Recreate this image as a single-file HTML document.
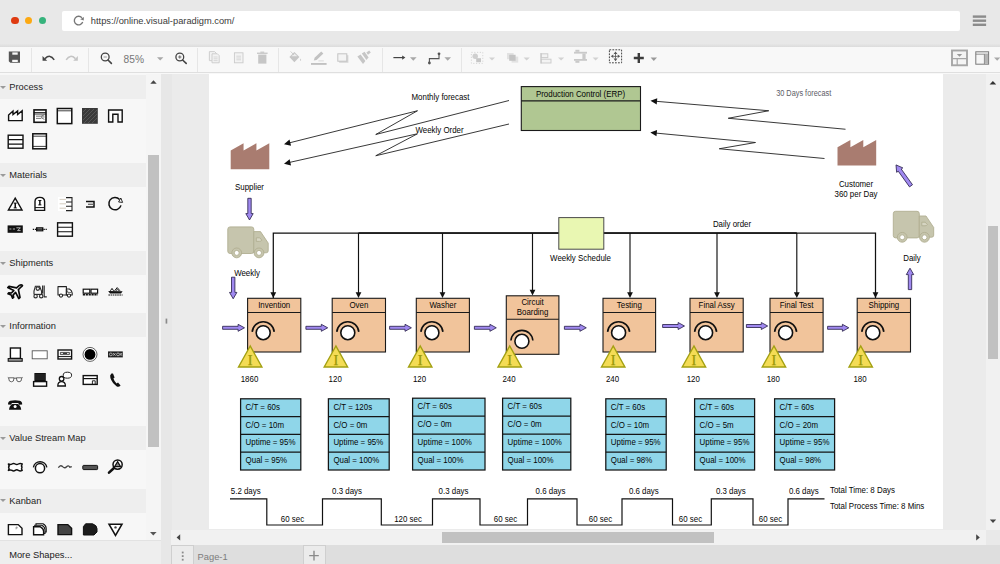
<!DOCTYPE html>
<html lang="en">
<head>
<meta charset="utf-8">
<title>Value Stream Map - Visual Paradigm Online</title>
<style>
*{box-sizing:border-box;margin:0;padding:0}
html,body{width:1000px;height:564px;overflow:hidden;background:#e9e9e9;font-family:"Liberation Sans",Arial,Helvetica,sans-serif;}
#app{position:relative;width:1000px;height:564px;overflow:hidden;background:#e9e9e9}
.abs{position:absolute}
#chrome{left:0;top:0;width:1000px;height:46px;background:#e8e8e8}
#chrome .shade{left:0;top:44px;width:1000px;height:2.6px;background:linear-gradient(#e6e6e6,#dcdcdc)}
.dot{width:7.2px;height:7.2px;border-radius:50%;top:17px}
#url{left:62px;top:10.5px;width:897.5px;height:20.5px;background:#fff;border-radius:2px}
#urltxt{left:90.8px;top:14.5px;font-size:9.3px;line-height:12px;color:#3a3a3a;white-space:nowrap}
#toolbar{left:0;top:46.5px;width:1000px;height:27.5px;background:#f8f8f8}
#tbline{left:0;top:71.8px;width:1000px;height:1px;background:#dfdfdf}
.sep{top:47.5px;width:1px;height:24.3px;background:#e6e6e6}
#zoomtxt{left:123.6px;top:52.6px;font-size:10.2px;line-height:13px;color:#767676}
#side{left:0;top:74px;width:146px;height:466px;background:#f7f7f7}
.hd{left:0;width:146px;height:24px;background:#eeeeee;font-size:9.3px;line-height:23.8px;padding-top:var(--p);color:#1e1e1e;padding-left:9.3px;white-space:nowrap}
.hd:before{content:"";position:absolute;left:-0.2px;top:calc(9.8px + var(--p));border-left:3px solid transparent;border-right:3px solid transparent;border-top:3.3px solid #9a9a9a}
#sscroll{left:146px;top:74px;width:15px;height:466px;background:#f5f5f5}
#sthumb{left:148.4px;top:155px;width:10.6px;height:292px;background:#c1c1c1}
#more{left:0;top:540px;width:161px;height:24px;background:#eeeeee;border-top:1px solid #e2e2e2;font-size:9.3px;line-height:29.2px;padding-left:9.2px;color:#1a1a1a}
#gut{left:161px;top:74px;width:10.5px;height:490px;background:#e7e7e7}
#canvas{left:171.5px;top:74px;width:814.5px;height:456px;background:#ebebeb}
#page{left:209.4px;top:74px;width:734px;height:454.6px;background:#fff}
#vscroll{left:986px;top:74px;width:14px;height:456px;background:#f1f1f1}
#vthumb{left:987.6px;top:225.8px;width:10.8px;height:133.2px;background:#c1c1c1}
#hscroll{left:171px;top:529.6px;width:815px;height:15.4px;background:#f1f1f1}
#hthumb{left:442px;top:532px;width:272px;height:10.6px;background:#c1c1c1}
#tabs{left:171.5px;top:545px;width:828.5px;height:19px;background:#dedede}
.tbtn{top:545px;height:19px;background:#ebebeb;border:1px solid #cfcfcf;border-bottom:none}
#pagetab{left:197.6px;top:550.8px;font-size:9.3px;line-height:12px;color:#7c7c7c}
svg{position:absolute;left:0;top:0;overflow:visible}
svg text{font-family:"Liberation Sans",Arial,Helvetica,sans-serif}
</style>
</head>
<body>
<div id="app">
  <!-- browser chrome -->
  <div id="chrome" class="abs">
    <div class="abs shade"></div>
    <div class="abs dot" style="left:11.4px;background:#df3b11"></div>
    <div class="abs dot" style="left:25px;background:#fca912"></div>
    <div class="abs dot" style="left:38.9px;background:#36b37c"></div>
    <div id="url" class="abs"></div>
    <div id="urltxt" class="abs">https://online.visual-paradigm.com/</div>
  </div>
  <!-- toolbar -->
  <div id="toolbar" class="abs"></div>
  <div id="tbline" class="abs"></div>
  <div class="abs sep" style="left:31px"></div>
  <div class="abs sep" style="left:88px"></div>
  <div class="abs sep" style="left:197px"></div>
  <div class="abs sep" style="left:278px"></div>
  <div class="abs sep" style="left:382px"></div>
  <div class="abs sep" style="left:461px"></div>
  <div id="zoomtxt" class="abs">85%</div>
  <!-- sidebar -->
  <div id="side" class="abs"></div>
  <div class="abs hd" style="top:74.7px;--p:1.8px">Process</div>
  <div class="abs hd" style="top:163px;--p:1.0px">Materials</div>
  <div class="abs hd" style="top:250.7px;--p:1.6px">Shipments</div>
  <div class="abs hd" style="top:313.3px;--p:1.6px">Information</div>
  <div class="abs hd" style="top:426.3px;--p:0.6px">Value Stream Map</div>
  <div class="abs hd" style="top:489.1px;--p:0.5px">Kanban</div>
  <div id="sscroll" class="abs"></div>
  <div id="sthumb" class="abs"></div>
  <div id="more" class="abs">More Shapes...</div>
  <div id="gut" class="abs"></div>
  <!-- canvas -->
  <div id="canvas" class="abs"></div>
  <div id="page" class="abs"></div>
  <div id="vscroll" class="abs"></div>
  <div id="vthumb" class="abs"></div>
  <div id="hscroll" class="abs"></div>
  <div id="hthumb" class="abs"></div>
  <div id="tabs" class="abs"></div>
  <div class="abs tbtn" style="left:171px;width:23px"></div>
  <div class="abs tbtn" style="left:302.5px;width:23px"></div>
  <div id="pagetab" class="abs">Page-1</div>
  <!-- diagram -->
  <svg id="diagram" width="1000" height="564" viewBox="0 0 1000 564">
  <defs><clipPath id="pc"><rect x="209.5" y="72" width="734" height="456.6"/></clipPath></defs>
  <g clip-path="url(#pc)">
<path d="M290 142.7 L417.5 110.75 L375.75 134.5 L509 100.5" fill="none" stroke="#222" stroke-width="0.9" stroke-linejoin="miter"/>
<polygon points="284.00,144.20 289.53,139.52 291.08,145.72" fill="#111"/>
<path d="M290 162.3 L417.5 133.75 L375.75 155.75 L509 124" fill="none" stroke="#222" stroke-width="0.9" stroke-linejoin="miter"/>
<polygon points="284.00,163.70 289.64,159.15 291.04,165.40" fill="#111"/>
<path d="M656 101.3 L768.75 110.75 L728.25 118.25 L845.5 129.25" fill="none" stroke="#222" stroke-width="0.9" stroke-linejoin="miter"/>
<polygon points="650.50,100.80 657.25,98.16 656.71,104.53" fill="#111"/>
<path d="M656 133.1 L755.5 142.5 L719.25 148.75 L824.5 158.5" fill="none" stroke="#222" stroke-width="0.9" stroke-linejoin="miter"/>
<polygon points="650.30,132.50 657.07,129.93 656.47,136.30" fill="#111"/>
<text transform="translate(440.5 99.7) scale(0.885 1)" text-anchor="middle" fill="#050505" font-size="8.93" >Monthly forecast</text>
<text transform="translate(439.5 132.7) scale(0.885 1)" text-anchor="middle" fill="#050505" font-size="8.93" >Weekly Order</text>
<text transform="translate(803.7 95.9) scale(0.885 1)" text-anchor="middle" fill="#5c5c66" font-size="8.31" >30 Days forecast</text>
<rect x="521.3" y="86.6" width="119.2" height="43.9" fill="#b0c792" stroke="#1a1a1a" stroke-width="1.1"/>
<line x1="521.3" y1="100.9" x2="640.5" y2="100.9" stroke="#1a1a1a" stroke-width="1.1"/>
<text transform="translate(580.5 96.9) scale(0.885 1)" text-anchor="middle" fill="#050505" font-size="8.93" >Production Control (ERP)</text>
<polygon points="230.70,169.20 230.70,150.50 243.57,143.20 243.57,150.50 256.43,143.20 256.43,150.50 269.30,143.20 269.30,169.20" fill="#a97c70"/>
<polygon points="837.50,165.60 837.50,147.30 850.40,140.00 850.40,147.30 863.30,140.00 863.30,147.30 876.20,140.00 876.20,165.60" fill="#a97c70"/>
<text transform="translate(249.5 189.8) scale(0.885 1)" text-anchor="middle" fill="#050505" font-size="8.93" >Supplier</text>
<text transform="translate(856 187.1) scale(0.885 1)" text-anchor="middle" fill="#050505" font-size="8.93" >Customer</text>
<text transform="translate(856 196.6) scale(0.885 1)" text-anchor="middle" fill="#050505" font-size="8.93" >360 per Day</text>
<polygon points="247.80,198.30 247.80,213.60 245.80,213.60 249.50,220.00 253.20,213.60 251.20,213.60 251.20,198.30" fill="#a089f0" stroke="#231c44" stroke-width="0.8" stroke-linejoin="miter"/>
<polygon points="231.50,277.20 231.50,292.40 229.50,292.40 233.20,298.80 236.90,292.40 234.90,292.40 234.90,277.20" fill="#a089f0" stroke="#231c44" stroke-width="0.8" stroke-linejoin="miter"/>
<polygon points="911.70,289.60 911.70,274.60 913.70,274.60 910.00,268.20 906.30,274.60 908.30,274.60 908.30,289.60" fill="#a089f0" stroke="#231c44" stroke-width="0.8" stroke-linejoin="miter"/>
<polygon points="912.50,184.72 901.23,169.02 902.82,167.88 896.00,164.90 896.64,172.32 898.23,171.18 909.50,186.88" fill="#a089f0" stroke="#231c44" stroke-width="0.8" stroke-linejoin="miter"/>
<g transform="translate(227.5,226.6)" fill="#c6c5ad" stroke="#b1af92" stroke-width="0.9" stroke-linejoin="round"><rect x="0.3" y="0.3" width="26" height="26.6" rx="2.3"/><path d="M26.3 5 H33 L40.7 16.5 V24.2 Q40.7 26.2 38.7 26.2 H26.3 Z"/><path d="M28.8 11.2 H32.2 L34.4 13.6 Q33.6 14.8 32 14.8 H28.8 Z" fill="#d6d5c2"/><circle cx="9.2" cy="26.3" r="4.9"/><circle cx="9.2" cy="26.3" r="2.5" fill="#fff"/><circle cx="31.5" cy="26.3" r="4.9"/><circle cx="31.5" cy="26.3" r="2.5" fill="#fff"/></g>
<g transform="translate(893,211)" fill="#c6c5ad" stroke="#b1af92" stroke-width="0.9" stroke-linejoin="round"><rect x="0.3" y="0.3" width="26" height="26.6" rx="2.3"/><path d="M26.3 5 H33 L40.7 16.5 V24.2 Q40.7 26.2 38.7 26.2 H26.3 Z"/><path d="M28.8 11.2 H32.2 L34.4 13.6 Q33.6 14.8 32 14.8 H28.8 Z" fill="#d6d5c2"/><circle cx="9.2" cy="26.3" r="4.9"/><circle cx="9.2" cy="26.3" r="2.5" fill="#fff"/><circle cx="31.5" cy="26.3" r="4.9"/><circle cx="31.5" cy="26.3" r="2.5" fill="#fff"/></g>
<text transform="translate(247 276.1) scale(0.885 1)" text-anchor="middle" fill="#050505" font-size="8.93" >Weekly</text>
<text transform="translate(912 260.6) scale(0.885 1)" text-anchor="middle" fill="#050505" font-size="8.93" >Daily</text>
<path d="M273.3 298 V233 H875.5 V298" fill="none" stroke="#111" stroke-width="1.25"/>
<path d="M358.5 233 H796.8" fill="none" stroke="#111" stroke-width="1.6"/>
<polygon points="273.3,298 270.40000000000003,292.2 276.2,292.2" fill="#111"/>
<line x1="358.5" y1="233" x2="358.5" y2="295" stroke="#111" stroke-width="1.15"/>
<polygon points="358.5,298 355.6,292.2 361.4,292.2" fill="#111"/>
<line x1="442.5" y1="233" x2="442.5" y2="295" stroke="#111" stroke-width="1.15"/>
<polygon points="442.5,298 439.6,292.2 445.4,292.2" fill="#111"/>
<line x1="532.5" y1="233" x2="532.5" y2="292.5" stroke="#111" stroke-width="1.15"/>
<polygon points="532.5,295.5 529.6,289.7 535.4,289.7" fill="#111"/>
<line x1="630" y1="233" x2="630" y2="295" stroke="#111" stroke-width="1.15"/>
<polygon points="630,298 627.1,292.2 632.9,292.2" fill="#111"/>
<line x1="717" y1="233" x2="717" y2="295" stroke="#111" stroke-width="1.15"/>
<polygon points="717,298 714.1,292.2 719.9,292.2" fill="#111"/>
<line x1="796.8" y1="233" x2="796.8" y2="295" stroke="#111" stroke-width="1.15"/>
<polygon points="796.8,298 793.9,292.2 799.6999999999999,292.2" fill="#111"/>
<polygon points="875.5,298 872.6,292.2 878.4,292.2" fill="#111"/>
<rect x="558.8" y="217.6" width="45" height="31.6" fill="#e9f7b2" stroke="#4a4a4a" stroke-width="1"/>
<text transform="translate(580.5 260.6) scale(0.885 1)" text-anchor="middle" fill="#050505" font-size="8.93" >Weekly Schedule</text>
<text transform="translate(732 227.3) scale(0.885 1)" text-anchor="middle" fill="#050505" font-size="8.93" >Daily order</text>
<rect x="247.6" y="298.3" width="53.2" height="53.70" fill="#f1c49b" stroke="#1a1a1a" stroke-width="1.1"/>
<line x1="247.6" y1="312.5" x2="300.8" y2="312.5" stroke="#1a1a1a" stroke-width="1.1"/>
<text transform="translate(274.2 308.1) scale(0.885 1)" text-anchor="middle" fill="#050505" font-size="8.93" >Invention</text>
<path d="M252.23 331.93 A11 11 0 0 1 274.17 331.93" fill="none" stroke="#111" stroke-width="1.6"/>
<circle cx="263.2" cy="332.7" r="7" fill="#fff" stroke="#111" stroke-width="1.6"/>
<polygon points="250.2,346 238.5,367 261.9,367" fill="#f4dc55" stroke="#a3a012" stroke-width="1.4" stroke-linejoin="miter"/>
<text x="250.2" y="365" text-anchor="middle" fill="#9a9808" stroke="#9a9808" stroke-width="0.25" font-size="14.4" style="font-family:'Liberation Serif','Times New Roman',serif">I</text>
<text transform="translate(249.5 382.1) scale(0.885 1)" text-anchor="middle" fill="#050505" font-size="8.93" >1860</text>
<rect x="332.2" y="298.3" width="53.3" height="53.70" fill="#f1c49b" stroke="#1a1a1a" stroke-width="1.1"/>
<line x1="332.2" y1="312.5" x2="385.5" y2="312.5" stroke="#1a1a1a" stroke-width="1.1"/>
<text transform="translate(358.84999999999997 308.1) scale(0.885 1)" text-anchor="middle" fill="#050505" font-size="8.93" >Oven</text>
<path d="M336.83 331.93 A11 11 0 0 1 358.77 331.93" fill="none" stroke="#111" stroke-width="1.6"/>
<circle cx="347.8" cy="332.7" r="7" fill="#fff" stroke="#111" stroke-width="1.6"/>
<polygon points="335.9,346 324.2,367 347.59999999999997,367" fill="#f4dc55" stroke="#a3a012" stroke-width="1.4" stroke-linejoin="miter"/>
<text x="335.9" y="365" text-anchor="middle" fill="#9a9808" stroke="#9a9808" stroke-width="0.25" font-size="14.4" style="font-family:'Liberation Serif','Times New Roman',serif">I</text>
<text transform="translate(335.2 382.1) scale(0.885 1)" text-anchor="middle" fill="#050505" font-size="8.93" >120</text>
<rect x="416.3" y="298.3" width="53.1" height="53.70" fill="#f1c49b" stroke="#1a1a1a" stroke-width="1.1"/>
<line x1="416.3" y1="312.5" x2="469.40000000000003" y2="312.5" stroke="#1a1a1a" stroke-width="1.1"/>
<text transform="translate(442.85 308.1) scale(0.885 1)" text-anchor="middle" fill="#050505" font-size="8.93" >Washer</text>
<path d="M420.93 331.93 A11 11 0 0 1 442.87 331.93" fill="none" stroke="#111" stroke-width="1.6"/>
<circle cx="431.90000000000003" cy="332.7" r="7" fill="#fff" stroke="#111" stroke-width="1.6"/>
<polygon points="420.2,346 408.5,367 431.9,367" fill="#f4dc55" stroke="#a3a012" stroke-width="1.4" stroke-linejoin="miter"/>
<text x="420.2" y="365" text-anchor="middle" fill="#9a9808" stroke="#9a9808" stroke-width="0.25" font-size="14.4" style="font-family:'Liberation Serif','Times New Roman',serif">I</text>
<text transform="translate(419.5 382.1) scale(0.885 1)" text-anchor="middle" fill="#050505" font-size="8.93" >120</text>
<rect x="506.3" y="295.8" width="52.6" height="58.50" fill="#f1c49b" stroke="#1a1a1a" stroke-width="1.1"/>
<line x1="506.3" y1="319.3" x2="558.9" y2="319.3" stroke="#1a1a1a" stroke-width="1.1"/>
<text transform="translate(532.6 305.4) scale(0.885 1)" text-anchor="middle" fill="#050505" font-size="8.93" >Circuit</text>
<text transform="translate(532.6 315.0) scale(0.885 1)" text-anchor="middle" fill="#050505" font-size="8.93" >Boarding</text>
<path d="M510.93 340.53 A11 11 0 0 1 532.87 340.53" fill="none" stroke="#111" stroke-width="1.6"/>
<circle cx="521.9" cy="341.3" r="7" fill="#fff" stroke="#111" stroke-width="1.6"/>
<polygon points="509.7,346 498.0,367 521.4,367" fill="#f4dc55" stroke="#a3a012" stroke-width="1.4" stroke-linejoin="miter"/>
<text x="509.7" y="365" text-anchor="middle" fill="#9a9808" stroke="#9a9808" stroke-width="0.25" font-size="14.4" style="font-family:'Liberation Serif','Times New Roman',serif">I</text>
<text transform="translate(509.0 382.1) scale(0.885 1)" text-anchor="middle" fill="#050505" font-size="8.93" >240</text>
<rect x="603" y="298.3" width="52.6" height="53.70" fill="#f1c49b" stroke="#1a1a1a" stroke-width="1.1"/>
<line x1="603" y1="312.5" x2="655.6" y2="312.5" stroke="#1a1a1a" stroke-width="1.1"/>
<text transform="translate(629.3 308.1) scale(0.885 1)" text-anchor="middle" fill="#050505" font-size="8.93" >Testing</text>
<path d="M607.63 331.93 A11 11 0 0 1 629.57 331.93" fill="none" stroke="#111" stroke-width="1.6"/>
<circle cx="618.6" cy="332.7" r="7" fill="#fff" stroke="#111" stroke-width="1.6"/>
<polygon points="613.2,346 601.5,367 624.9,367" fill="#f4dc55" stroke="#a3a012" stroke-width="1.4" stroke-linejoin="miter"/>
<text x="613.2" y="365" text-anchor="middle" fill="#9a9808" stroke="#9a9808" stroke-width="0.25" font-size="14.4" style="font-family:'Liberation Serif','Times New Roman',serif">I</text>
<text transform="translate(612.5 382.1) scale(0.885 1)" text-anchor="middle" fill="#050505" font-size="8.93" >240</text>
<rect x="690" y="298.3" width="53.2" height="53.70" fill="#f1c49b" stroke="#1a1a1a" stroke-width="1.1"/>
<line x1="690" y1="312.5" x2="743.2" y2="312.5" stroke="#1a1a1a" stroke-width="1.1"/>
<text transform="translate(716.6 308.1) scale(0.885 1)" text-anchor="middle" fill="#050505" font-size="8.93" >Final Assy</text>
<path d="M694.63 331.93 A11 11 0 0 1 716.57 331.93" fill="none" stroke="#111" stroke-width="1.6"/>
<circle cx="705.6" cy="332.7" r="7" fill="#fff" stroke="#111" stroke-width="1.6"/>
<polygon points="693.95,346 682.25,367 705.65,367" fill="#f4dc55" stroke="#a3a012" stroke-width="1.4" stroke-linejoin="miter"/>
<text x="693.95" y="365" text-anchor="middle" fill="#9a9808" stroke="#9a9808" stroke-width="0.25" font-size="14.4" style="font-family:'Liberation Serif','Times New Roman',serif">I</text>
<text transform="translate(693.25 382.1) scale(0.885 1)" text-anchor="middle" fill="#050505" font-size="8.93" >120</text>
<rect x="770" y="298.3" width="53.1" height="53.70" fill="#f1c49b" stroke="#1a1a1a" stroke-width="1.1"/>
<line x1="770" y1="312.5" x2="823.1" y2="312.5" stroke="#1a1a1a" stroke-width="1.1"/>
<text transform="translate(796.55 308.1) scale(0.885 1)" text-anchor="middle" fill="#050505" font-size="8.93" >Final Test</text>
<path d="M774.63 331.93 A11 11 0 0 1 796.57 331.93" fill="none" stroke="#111" stroke-width="1.6"/>
<circle cx="785.6" cy="332.7" r="7" fill="#fff" stroke="#111" stroke-width="1.6"/>
<polygon points="773.95,346 762.25,367 785.65,367" fill="#f4dc55" stroke="#a3a012" stroke-width="1.4" stroke-linejoin="miter"/>
<text x="773.95" y="365" text-anchor="middle" fill="#9a9808" stroke="#9a9808" stroke-width="0.25" font-size="14.4" style="font-family:'Liberation Serif','Times New Roman',serif">I</text>
<text transform="translate(773.25 382.1) scale(0.885 1)" text-anchor="middle" fill="#050505" font-size="8.93" >180</text>
<rect x="857.2" y="298.3" width="53.3" height="53.70" fill="#f1c49b" stroke="#1a1a1a" stroke-width="1.1"/>
<line x1="857.2" y1="312.5" x2="910.5" y2="312.5" stroke="#1a1a1a" stroke-width="1.1"/>
<text transform="translate(883.85 308.1) scale(0.885 1)" text-anchor="middle" fill="#050505" font-size="8.93" >Shipping</text>
<path d="M861.83 331.93 A11 11 0 0 1 883.77 331.93" fill="none" stroke="#111" stroke-width="1.6"/>
<circle cx="872.8000000000001" cy="332.7" r="7" fill="#fff" stroke="#111" stroke-width="1.6"/>
<polygon points="860.7,346 849.0,367 872.4,367" fill="#f4dc55" stroke="#a3a012" stroke-width="1.4" stroke-linejoin="miter"/>
<text x="860.7" y="365" text-anchor="middle" fill="#9a9808" stroke="#9a9808" stroke-width="0.25" font-size="14.4" style="font-family:'Liberation Serif','Times New Roman',serif">I</text>
<text transform="translate(860.0 382.1) scale(0.885 1)" text-anchor="middle" fill="#050505" font-size="8.93" >180</text>
<polygon points="222.60,329.30 238.10,329.30 238.10,331.30 244.50,327.80 238.10,324.30 238.10,326.30 222.60,326.30" fill="#a089f0" stroke="#231c44" stroke-width="0.8" stroke-linejoin="miter"/>
<polygon points="305.90,329.30 321.30,329.30 321.30,331.30 327.70,327.80 321.30,324.30 321.30,326.30 305.90,326.30" fill="#a089f0" stroke="#231c44" stroke-width="0.8" stroke-linejoin="miter"/>
<polygon points="389.60,329.30 405.00,329.30 405.00,331.30 411.40,327.80 405.00,324.30 405.00,326.30 389.60,326.30" fill="#a089f0" stroke="#231c44" stroke-width="0.8" stroke-linejoin="miter"/>
<polygon points="474.40,329.30 489.90,329.30 489.90,331.30 496.30,327.80 489.90,324.30 489.90,326.30 474.40,326.30" fill="#a089f0" stroke="#231c44" stroke-width="0.8" stroke-linejoin="miter"/>
<polygon points="564.40,329.30 579.90,329.30 579.90,331.30 586.30,327.80 579.90,324.30 579.90,326.30 564.40,326.30" fill="#a089f0" stroke="#231c44" stroke-width="0.8" stroke-linejoin="miter"/>
<polygon points="662.60,327.50 678.10,327.50 678.10,329.50 684.50,326.00 678.10,322.50 678.10,324.50 662.60,324.50" fill="#a089f0" stroke="#231c44" stroke-width="0.8" stroke-linejoin="miter"/>
<polygon points="746.40,327.50 761.30,327.50 761.30,329.50 767.70,326.00 761.30,322.50 761.30,324.50 746.40,324.50" fill="#a089f0" stroke="#231c44" stroke-width="0.8" stroke-linejoin="miter"/>
<polygon points="827.60,329.30 842.40,329.30 842.40,331.30 848.80,327.80 842.40,324.30 842.40,326.30 827.60,326.30" fill="#a089f0" stroke="#231c44" stroke-width="0.8" stroke-linejoin="miter"/>
<rect x="240.6" y="398.8" width="60.20" height="71.20" fill="#8fd6e9" stroke="#151515" stroke-width="1.25"/>
<line x1="240.6" y1="416.60" x2="300.8" y2="416.60" stroke="#151515" stroke-width="1.25"/>
<line x1="240.6" y1="434.40" x2="300.8" y2="434.40" stroke="#151515" stroke-width="1.25"/>
<line x1="240.6" y1="452.20" x2="300.8" y2="452.20" stroke="#151515" stroke-width="1.25"/>
<text transform="translate(245.6 409.7) scale(0.885 1)" text-anchor="start" fill="#050505" font-size="8.93" >C/T = 60s</text>
<text transform="translate(245.6 427.5) scale(0.885 1)" text-anchor="start" fill="#050505" font-size="8.93" >C/O = 10m</text>
<text transform="translate(245.6 445.3) scale(0.885 1)" text-anchor="start" fill="#050505" font-size="8.93" >Uptime = 95%</text>
<text transform="translate(245.6 463.1) scale(0.885 1)" text-anchor="start" fill="#050505" font-size="8.93" >Qual = 95%</text>
<rect x="328.4" y="398.8" width="60.80" height="71.20" fill="#8fd6e9" stroke="#151515" stroke-width="1.25"/>
<line x1="328.4" y1="416.60" x2="389.2" y2="416.60" stroke="#151515" stroke-width="1.25"/>
<line x1="328.4" y1="434.40" x2="389.2" y2="434.40" stroke="#151515" stroke-width="1.25"/>
<line x1="328.4" y1="452.20" x2="389.2" y2="452.20" stroke="#151515" stroke-width="1.25"/>
<text transform="translate(333.4 409.7) scale(0.885 1)" text-anchor="start" fill="#050505" font-size="8.93" >C/T = 120s</text>
<text transform="translate(333.4 427.5) scale(0.885 1)" text-anchor="start" fill="#050505" font-size="8.93" >C/O = 0m</text>
<text transform="translate(333.4 445.3) scale(0.885 1)" text-anchor="start" fill="#050505" font-size="8.93" >Uptime = 95%</text>
<text transform="translate(333.4 463.1) scale(0.885 1)" text-anchor="start" fill="#050505" font-size="8.93" >Qual = 100%</text>
<rect x="412.6" y="398.2" width="72.40" height="71.80" fill="#8fd6e9" stroke="#151515" stroke-width="1.25"/>
<line x1="412.6" y1="416.15" x2="485" y2="416.15" stroke="#151515" stroke-width="1.25"/>
<line x1="412.6" y1="434.10" x2="485" y2="434.10" stroke="#151515" stroke-width="1.25"/>
<line x1="412.6" y1="452.05" x2="485" y2="452.05" stroke="#151515" stroke-width="1.25"/>
<text transform="translate(417.6 409.18) scale(0.885 1)" text-anchor="start" fill="#050505" font-size="8.93" >C/T = 60s</text>
<text transform="translate(417.6 427.12) scale(0.885 1)" text-anchor="start" fill="#050505" font-size="8.93" >C/O = 0m</text>
<text transform="translate(417.6 445.08) scale(0.885 1)" text-anchor="start" fill="#050505" font-size="8.93" >Uptime = 100%</text>
<text transform="translate(417.6 463.03) scale(0.885 1)" text-anchor="start" fill="#050505" font-size="8.93" >Qual = 100%</text>
<rect x="502.6" y="398.2" width="68.20" height="71.80" fill="#8fd6e9" stroke="#151515" stroke-width="1.25"/>
<line x1="502.6" y1="416.15" x2="570.8" y2="416.15" stroke="#151515" stroke-width="1.25"/>
<line x1="502.6" y1="434.10" x2="570.8" y2="434.10" stroke="#151515" stroke-width="1.25"/>
<line x1="502.6" y1="452.05" x2="570.8" y2="452.05" stroke="#151515" stroke-width="1.25"/>
<text transform="translate(507.6 409.18) scale(0.885 1)" text-anchor="start" fill="#050505" font-size="8.93" >C/T = 60s</text>
<text transform="translate(507.6 427.12) scale(0.885 1)" text-anchor="start" fill="#050505" font-size="8.93" >C/O = 0m</text>
<text transform="translate(507.6 445.08) scale(0.885 1)" text-anchor="start" fill="#050505" font-size="8.93" >Uptime = 100%</text>
<text transform="translate(507.6 463.03) scale(0.885 1)" text-anchor="start" fill="#050505" font-size="8.93" >Qual = 100%</text>
<rect x="605.8" y="398.8" width="60.40" height="71.20" fill="#8fd6e9" stroke="#151515" stroke-width="1.25"/>
<line x1="605.8" y1="416.60" x2="666.2" y2="416.60" stroke="#151515" stroke-width="1.25"/>
<line x1="605.8" y1="434.40" x2="666.2" y2="434.40" stroke="#151515" stroke-width="1.25"/>
<line x1="605.8" y1="452.20" x2="666.2" y2="452.20" stroke="#151515" stroke-width="1.25"/>
<text transform="translate(610.8 409.7) scale(0.885 1)" text-anchor="start" fill="#050505" font-size="8.93" >C/T = 60s</text>
<text transform="translate(610.8 427.5) scale(0.885 1)" text-anchor="start" fill="#050505" font-size="8.93" >C/O = 10m</text>
<text transform="translate(610.8 445.3) scale(0.885 1)" text-anchor="start" fill="#050505" font-size="8.93" >Uptime = 95%</text>
<text transform="translate(610.8 463.1) scale(0.885 1)" text-anchor="start" fill="#050505" font-size="8.93" >Qual = 98%</text>
<rect x="694.6" y="398.8" width="60.00" height="71.20" fill="#8fd6e9" stroke="#151515" stroke-width="1.25"/>
<line x1="694.6" y1="416.60" x2="754.6" y2="416.60" stroke="#151515" stroke-width="1.25"/>
<line x1="694.6" y1="434.40" x2="754.6" y2="434.40" stroke="#151515" stroke-width="1.25"/>
<line x1="694.6" y1="452.20" x2="754.6" y2="452.20" stroke="#151515" stroke-width="1.25"/>
<text transform="translate(699.6 409.7) scale(0.885 1)" text-anchor="start" fill="#050505" font-size="8.93" >C/T = 60s</text>
<text transform="translate(699.6 427.5) scale(0.885 1)" text-anchor="start" fill="#050505" font-size="8.93" >C/O = 5m</text>
<text transform="translate(699.6 445.3) scale(0.885 1)" text-anchor="start" fill="#050505" font-size="8.93" >Uptime = 95%</text>
<text transform="translate(699.6 463.1) scale(0.885 1)" text-anchor="start" fill="#050505" font-size="8.93" >Qual = 100%</text>
<rect x="774.6" y="398.8" width="60.00" height="71.20" fill="#8fd6e9" stroke="#151515" stroke-width="1.25"/>
<line x1="774.6" y1="416.60" x2="834.6" y2="416.60" stroke="#151515" stroke-width="1.25"/>
<line x1="774.6" y1="434.40" x2="834.6" y2="434.40" stroke="#151515" stroke-width="1.25"/>
<line x1="774.6" y1="452.20" x2="834.6" y2="452.20" stroke="#151515" stroke-width="1.25"/>
<text transform="translate(779.6 409.7) scale(0.885 1)" text-anchor="start" fill="#050505" font-size="8.93" >C/T = 60s</text>
<text transform="translate(779.6 427.5) scale(0.885 1)" text-anchor="start" fill="#050505" font-size="8.93" >C/O = 20m</text>
<text transform="translate(779.6 445.3) scale(0.885 1)" text-anchor="start" fill="#050505" font-size="8.93" >Uptime = 95%</text>
<text transform="translate(779.6 463.1) scale(0.885 1)" text-anchor="start" fill="#050505" font-size="8.93" >Qual = 98%</text>
<path d="M230 498.8 L266.8 498.8 L266.8 525 L322.5 525 L322.5 498.8 L381.3 498.8 L381.3 525 L432.5 525 L432.5 498.8 L480 498.8 L480 525 L527.5 525 L527.5 498.8 L577 498.8 L577 525 L622 525 L622 498.8 L672.5 498.8 L672.5 525 L711.3 525 L711.3 498.8 L753 498.8 L753 525 L788 525 L788 498.8 L824.5 498.8" fill="none" stroke="#111" stroke-width="1.2" stroke-linejoin="miter"/>
<text transform="translate(230.8 493.8) scale(0.885 1)" text-anchor="start" fill="#050505" font-size="8.93" >5.2 days</text>
<text transform="translate(347 493.8) scale(0.885 1)" text-anchor="middle" fill="#050505" font-size="8.93" >0.3 days</text>
<text transform="translate(453.5 493.8) scale(0.885 1)" text-anchor="middle" fill="#050505" font-size="8.93" >0.3 days</text>
<text transform="translate(550.5 493.8) scale(0.885 1)" text-anchor="middle" fill="#050505" font-size="8.93" >0.6 days</text>
<text transform="translate(643.8 493.8) scale(0.885 1)" text-anchor="middle" fill="#050505" font-size="8.93" >0.6 days</text>
<text transform="translate(730.8 493.8) scale(0.885 1)" text-anchor="middle" fill="#050505" font-size="8.93" >0.3 days</text>
<text transform="translate(803.8 493.8) scale(0.885 1)" text-anchor="middle" fill="#050505" font-size="8.93" >0.6 days</text>
<text transform="translate(292.5 521.8) scale(0.885 1)" text-anchor="middle" fill="#050505" font-size="8.93" >60 sec</text>
<text transform="translate(408 521.8) scale(0.885 1)" text-anchor="middle" fill="#050505" font-size="8.93" >120 sec</text>
<text transform="translate(505.5 521.8) scale(0.885 1)" text-anchor="middle" fill="#050505" font-size="8.93" >60 sec</text>
<text transform="translate(600.5 521.8) scale(0.885 1)" text-anchor="middle" fill="#050505" font-size="8.93" >60 sec</text>
<text transform="translate(690.5 521.8) scale(0.885 1)" text-anchor="middle" fill="#050505" font-size="8.93" >60 sec</text>
<text transform="translate(770.5 521.8) scale(0.885 1)" text-anchor="middle" fill="#050505" font-size="8.93" >60 sec</text>
<text transform="translate(830 493.1) scale(0.885 1)" text-anchor="start" fill="#050505" font-size="8.93" >Total Time: 8 Days</text>
<text transform="translate(830 509.3) scale(0.885 1)" text-anchor="start" fill="#050505" font-size="8.93" >Total Process Time: 8 Mins</text>
  </g>
  </svg>
  <!-- ui icons -->
  <svg id="icons" width="1000" height="564" viewBox="0 0 1000 564">
<!-- hamburger -->
<g fill="#8b8b8b"><rect x="972.8" y="15.4" width="13.3" height="2.4"/><rect x="972.8" y="19.5" width="13.3" height="2.4"/><rect x="972.8" y="23.6" width="13.3" height="2.4"/></g>
<!-- reload -->
<path d="M81.9 17.8 A4.3 4.3 0 1 0 82.7 22" fill="none" stroke="#777" stroke-width="1.35"/>
<polygon points="80.2,19.2 83.9,17 83.7,20.6" fill="#777"/>
<!-- ===== toolbar ===== -->
<!-- save -->
<path d="M8.8 51.4 H20 V62.8 H10.4 L8.8 61.2 Z" fill="#555"/>
<rect x="12.3" y="52.4" width="5.4" height="2.3" fill="#f7f7f7"/>
<rect x="12.2" y="59.8" width="5.6" height="2.2" fill="#f7f7f7"/>
<!-- undo -->
<path d="M45 58.6 Q50.2 53.6 54.2 59.8" fill="none" stroke="#444" stroke-width="1.5"/>
<polygon points="42.5,56 47.2,60.8 42.6,60.8" fill="#444"/>
<!-- redo -->
<path d="M75.4 58.6 Q70.2 53.6 66.2 59.8" fill="none" stroke="#c4c4c4" stroke-width="1.5"/>
<polygon points="77.9,56 73.2,60.8 77.8,60.8" fill="#c4c4c4"/>
<!-- zoom out -->
<circle cx="105.2" cy="57" r="3.9" fill="none" stroke="#444" stroke-width="1.3"/>
<line x1="108" y1="60" x2="111.4" y2="63.4" stroke="#444" stroke-width="1.6" stroke-linecap="round"/>
<line x1="103.6" y1="57" x2="106.8" y2="57" stroke="#999" stroke-width="1"/>
<!-- caret -->
<polygon points="157,57.2 163.4,57.2 160.2,60.6" fill="#a8a8a8"/>
<!-- zoom in -->
<circle cx="179.8" cy="57" r="3.9" fill="none" stroke="#444" stroke-width="1.3"/>
<line x1="182.6" y1="60" x2="186.2" y2="63.4" stroke="#444" stroke-width="1.6" stroke-linecap="round"/>
<path d="M178.2 57 H181.4 M179.8 55.4 V58.6" stroke="#666" stroke-width="1" fill="none"/>
<!-- copy -->
<g fill="#f3f3f3" stroke="#cbcbcb" stroke-width="0.9">
<path d="M209.4 51.6 H214.6 L216.4 53.4 V60.6 H209.4 Z"/>
<path d="M212 53.8 H217.4 L219.2 55.6 V62.8 H212 Z"/>
<path d="M213.6 57 H217.6 M213.6 58.8 H217.6 M213.6 60.6 H217.6" stroke-width="0.7"/>
</g>
<!-- paste -->
<g fill="#f3f3f3" stroke="#cbcbcb" stroke-width="0.9">
<rect x="234.4" y="52.8" width="8.6" height="10"/>
<path d="M236.4 56.2 H241 M236.4 58 H241 M236.4 59.8 H241" stroke-width="0.7"/>
</g>
<!-- trash -->
<g fill="#c6c6c6"><rect x="258.2" y="54.6" width="8.2" height="9" /><rect x="257" y="52.6" width="10.6" height="1.3"/><rect x="260.4" y="51.6" width="3.8" height="1.2"/></g>
<!-- fill -->
<g fill="#c6c6c6"><polygon points="294.4,52 299.4,57 294.4,62.2 289.4,57"/><path d="M300.6 58.4 Q301.8 60.2 300.6 60.9 Q299.4 60.2 300.6 58.4Z"/></g>
<path d="M291.4 56.2 L294.4 53.4 L297.4 56.2 Z" fill="#ededed"/>
<line x1="290.6" y1="51.4" x2="294" y2="55" stroke="#c6c6c6" stroke-width="0.8"/>
<!-- pencil line -->
<polygon points="313.8,60.4 314.6,57.8 321.2,51.4 323.4,53.6 316.6,60 " fill="#c2c2c2"/>
<rect x="311" y="63.2" width="15.6" height="1.5" fill="#b4b4b4"/>
<rect x="318.4" y="60.4" width="5.4" height="1" fill="#dadada"/>
<!-- shadow -->
<rect x="339.2" y="55.2" width="9.2" height="7.6" fill="#d6d6d6"/>
<rect x="337.8" y="53.8" width="9" height="7.4" fill="#f4f4f4" stroke="#c4c4c4" stroke-width="1"/>
<!-- brush -->
<g fill="#c6c6c6"><polygon points="357.4,56.4 360.6,54.4 365.4,61 363,64"/><polygon points="361.8,53.6 364.6,51.8 368.6,57.4 366.4,60"/><polygon points="366.4,52.6 369.2,50.6 370.8,52.6 368,54.8"/></g>
<!-- connection arrow -->
<line x1="393.4" y1="57.6" x2="403" y2="57.6" stroke="#444" stroke-width="1.2"/>
<polygon points="405.4,57.6 402.2,55.4 402.2,59.8" fill="#444"/>
<polygon points="410,57.2 416.6,57.2 413.3,60.7" fill="#a8a8a8"/>
<!-- waypoint -->
<path d="M429.4 62.8 V58.6 H439 V54" fill="none" stroke="#555" stroke-width="1.1"/>
<circle cx="429.4" cy="63" r="1.4" fill="#555"/><circle cx="439" cy="53.8" r="1.4" fill="#555"/>
<polygon points="444.4,57.2 451,57.2 447.7,60.7" fill="#a8a8a8"/>
<!-- to front -->
<rect x="471.4" y="52.4" width="11.4" height="11" fill="none" stroke="#d4d4d4" stroke-width="0.9" stroke-dasharray="1.2 1.6"/>
<circle cx="475.2" cy="56.2" r="2.7" fill="#cfcfcf"/><rect x="476.2" y="58.2" width="4.8" height="4" fill="#c6c6c6"/>
<polygon points="489,57.4 495,57.4 492,60.6" fill="#d2d2d2"/>
<!-- to back -->
<rect x="507" y="53" width="6.6" height="6.2" fill="#e2e2e2"/><rect x="511.6" y="56.6" width="6.6" height="6" fill="#e2e2e2"/><rect x="509.2" y="54.8" width="6.4" height="6" fill="#c4c4c4"/>
<polygon points="523.6,57.4 529.8,57.4 526.7,60.6" fill="#d2d2d2"/>
<!-- align -->
<g fill="#f3f3f3" stroke="#cdcdcd" stroke-width="1"><rect x="541.2" y="53.8" width="6.6" height="3.8"/><rect x="541.2" y="59.2" width="9.8" height="3.8"/></g>
<line x1="541" y1="53" x2="541" y2="63.6" stroke="#c8c8c8" stroke-width="1.2"/>
<polygon points="558,57.4 564.2,57.4 561.1,60.6" fill="#d2d2d2"/>
<!-- distribute -->
<g fill="#c9c9c9"><rect x="574" y="51.8" width="13" height="1.8"/><rect x="574" y="59" width="13" height="1.8"/><rect x="575.4" y="49.8" width="4" height="2"/><rect x="575.4" y="60.8" width="4" height="2"/><rect x="582.4" y="53.6" width="3.2" height="5.4"/></g>
<polygon points="592.6,57.4 598.6,57.4 595.6,60.6" fill="#d2d2d2"/>
<!-- fit -->
<rect x="609.4" y="49.8" width="12.2" height="13" fill="none" stroke="#444" stroke-width="1" stroke-dasharray="1.8 1.2"/>
<g fill="#555"><polygon points="615.5,51.4 617.4,54 613.6,54"/><polygon points="615.5,61.2 617.4,58.6 613.6,58.6"/><polygon points="610.8,56.3 613.3,54.5 613.3,58.1"/><polygon points="620.2,56.3 617.7,54.5 617.7,58.1"/><rect x="615.1" y="54" width="0.8" height="4.6"/><rect x="613.3" y="55.9" width="4.4" height="0.8"/></g>
<!-- plus -->
<path d="M638.8 53 V63 M633.8 58 H643.8" stroke="#3c3c3c" stroke-width="2.4" fill="none"/>
<polygon points="650.6,57.6 657,57.6 653.8,61" fill="#999"/>
<!-- right icons -->
<rect x="952" y="50.5" width="15" height="14.8" fill="#f4f4f4" stroke="#a6a6a6" stroke-width="1.9"/>
<path d="M952 58.6 H967 M957.2 58.6 V65" stroke="#a6a6a6" stroke-width="1.2" fill="none"/>
<polygon points="956.8,54 962.2,54 959.5,56.8" fill="#999"/>
<rect x="975.8" y="51.8" width="12.8" height="12.4" fill="#f6f6f6" stroke="#7a7a7a" stroke-width="1"/>
<line x1="975.8" y1="54.2" x2="988.6" y2="54.2" stroke="#7a7a7a" stroke-width="0.8"/>
<rect x="984.6" y="54.4" width="3.4" height="9.4" fill="#b5b5b5"/><line x1="984.4" y1="54.2" x2="984.4" y2="64" stroke="#7a7a7a" stroke-width="0.8"/>
<polygon points="994,57.4 1000.4,57.4 997.2,60.8" fill="#a8a8a8"/>
<!-- scrollbar arrows -->
<polygon points="150.3,83.8 156.7,83.8 153.5,80.2" fill="#444"/>
<polygon points="150,532 156.6,532 153.3,535.6" fill="#555"/>
<polygon points="989.6,84.6 996.2,84.6 992.9,81" fill="#333"/>
<polygon points="989.8,519.4 996.2,519.4 993,523" fill="#444"/>
<polygon points="180.2,534.2 180.2,540.6 176.6,537.4" fill="#444"/>
<polygon points="976.2,534.2 976.2,540.6 979.8,537.4" fill="#444"/>
<!-- gutter handle -->
<rect x="165.6" y="318.6" width="1.4" height="5" fill="#8a8a8a"/><rect x="167.2" y="318.6" width="0.8" height="5" fill="#c8c8c8"/>
<!-- tab dots and plus -->
<g fill="#8a8a8a"><rect x="181.8" y="551.6" width="1.8" height="1.8"/><rect x="181.8" y="555.2" width="1.8" height="1.8"/><rect x="181.8" y="558.8" width="1.8" height="1.8"/></g>
<path d="M314 550.8 V560.4 M309.2 555.6 H318.8" stroke="#8a8a8a" stroke-width="1.4" fill="none"/>
<!-- ===== sidebar: Process ===== -->
<g fill="#fff" stroke="#111" stroke-width="1.4" stroke-linejoin="miter">
<path d="M8.6 120.6 V115 L13 111 V114.6 L17.6 111 V114.6 L22.2 110.8 V120.6 Z"/>
<rect x="34" y="109.9" width="12" height="12.4" stroke-width="1.6"/>
<rect x="57.3" y="108.5" width="14.5" height="15.1" stroke-width="1.5"/>
<path d="M108.6 122 V110 H122.2 V122 H118 V114.2 H112.8 V122 Z"/>
<rect x="8.2" y="135.2" width="14.8" height="13"/>
<rect x="32.8" y="133.8" width="13.6" height="15" stroke-width="1.5"/>
</g>
<g fill="none" stroke="#111">
<path d="M33.8 112.8 H46.2" stroke-width="1.3"/><path d="M33.8 114.6 H46.2" stroke-width="0.5"/>
<path d="M36 116.2 H41 L44.4 114.8 M41 116.8 L44.6 117 M41 117.6 L44.4 119.4 M36 118.4 H41" stroke-width="0.8" stroke="#555"/>
<path d="M57.2 110.8 H71.8" stroke-width="0.8"/>
<path d="M8.2 139.7 H23 M8.2 144.2 H23" stroke-width="1.2"/>
<path d="M33 136.2 H46.4 M33 146.4 H46.4" stroke-width="0.8"/>
</g>
<rect x="82" y="108" width="15.8" height="15.8" fill="#3a3a3a"/>
<path d="M83 112 L86 109 M83 116 L90 109 M83 120 L94 109 M84 123 L97 110 M88 123 L97 114 M92 123 L97 118" stroke="#6a6a6a" stroke-width="0.6" fill="none"/>
<!-- ===== Materials ===== -->
<g fill="#fff" stroke="#111" stroke-width="1.4" stroke-linejoin="miter">
<path d="M15.2 198.2 L22 210 H8.4 Z"/>
<path d="M35 210.4 V201.6 Q35 197.4 39.8 197.4 Q44.6 197.4 44.6 201.6 V210.4 Z"/>
<rect x="57.6" y="222.8" width="14.8" height="13.4"/>
</g>
<path d="M35 207.6 H44.6" stroke="#111" stroke-width="1" fill="none"/>
<path d="M57.6 227.2 H72.4 M57.6 231.8 H72.4" stroke="#111" stroke-width="1.1" fill="none"/>
<g fill="#111">
<rect x="14.5" y="203" width="1.5" height="5"/><rect x="13.7" y="202.6" width="3.1" height="1"/><rect x="13.7" y="207.4" width="3.1" height="1"/>
<rect x="39.1" y="200.4" width="1.5" height="4.6"/><rect x="38.3" y="200" width="3.1" height="1"/><rect x="38.3" y="204.4" width="3.1" height="1"/>
</g>
<rect x="58" y="197" width="14.8" height="14" fill="#fff"/>
<path d="M66 197.6 H72 V210.6 H66 M66 202 H72 M66 206.3 H72" fill="none" stroke="#222" stroke-width="1.1"/>
<path d="M59.6 199.4 H66 M59.6 203.8 H66 M59.6 208.2 H66" fill="none" stroke="#c9c0b0" stroke-width="0.8"/>
<path d="M86 201.6 H94 V207 H86" fill="none" stroke="#111" stroke-width="1.5"/>
<path d="M88 204.3 H93.4" stroke="#666" stroke-width="1.3" fill="none"/>
<path d="M119.6 199.4 A6.2 6.2 0 1 0 121 205.4" fill="none" stroke="#111" stroke-width="1.5"/>
<path d="M120.8 198 L122.6 202.4 L118.6 202 Z" fill="#fff" stroke="#111" stroke-width="0.9"/>
<rect x="7.6" y="225.4" width="15.2" height="7.4" fill="#111"/>
<path d="M9.4 229 H11.4 M12.8 229 H15 M16.4 227.8 H20.4 L17.6 230.6 H20.6" stroke="#ddd" stroke-width="0.8" fill="none"/>
<rect x="36" y="227.2" width="7.4" height="4.2" fill="#111"/>
<path d="M32.8 229.3 H36 M43.4 229.3 H46.8" stroke="#111" stroke-width="1.2" stroke-dasharray="1.4 0.8" fill="none"/>
<path d="M37.4 228.6 H42 M37.4 230 H42" stroke="#aaa" stroke-width="0.5" fill="none"/>
<!-- ===== Shipments ===== -->
<!-- airplane -->
<path d="M22.4 285.4 Q21.2 284.2 19.4 285.4 L16.6 287.8 L9 286.4 L7.8 287.6 L13.8 290.6 L11.4 293 L8.8 292.8 L8 293.8 L11.2 295 L12.6 298.2 L13.6 297.4 L13.2 294.8 L15.6 292.4 L18.8 298.6 L20 297.4 L18.4 289.6 L21 287 Q22.8 285.6 22.4 285.4 Z" fill="#fff" stroke="#0a0a0a" stroke-width="1.7" stroke-linejoin="round"/>
<!-- forklift -->
<g fill="none" stroke="#2e2e2e" stroke-width="1.15">
<path d="M34 294.6 V291 L35.4 286.2 H39.6 L41.6 291.4 V294.6"/>
<circle cx="37.8" cy="288.6" r="1.7"/>
<path d="M44.2 285.4 V296.8 H46.8 M42.6 285.4 V293.6"/>
<circle cx="35.6" cy="296.2" r="1.7"/><circle cx="41.2" cy="296.2" r="1.7"/>
<path d="M34 294.4 H42.6"/>
</g>
<!-- truck -->
<g fill="#fff" stroke="#222" stroke-width="1.1" stroke-linejoin="round">
<path d="M58 286.6 H66.4 V295 H58 Z"/>
<path d="M66.4 289 H69.4 Q72 290.6 72.2 293 V295 H66.4 Z"/>
<circle cx="61" cy="295.6" r="1.6"/><circle cx="69" cy="295.6" r="1.6"/>
<path d="M67.6 290.4 V292.4 H71.4" fill="none" stroke-width="0.7"/>
</g>
<!-- train -->
<g fill="#fff" stroke="#111" stroke-width="1.2"><rect x="83.2" y="289.2" width="6.6" height="4"/><rect x="91" y="289.2" width="6.6" height="4"/></g>
<path d="M82.8 294.8 H97.8" stroke="#111" stroke-width="1.4" stroke-dasharray="2.2 0.7" fill="none"/>
<!-- ship -->
<path d="M108.2 291 L110 293.6 H121 L122.6 291.2 Z" fill="#111"/>
<path d="M110.4 290.8 L112 288.4 L113.6 290.8 M114.6 290.8 L117.2 287.6 L120 290.8 M116 290.8 L117.2 289.4 L118.6 290.8" fill="none" stroke="#111" stroke-width="1"/>
<path d="M108.4 295 H122.6" stroke="#111" stroke-width="1" stroke-dasharray="1.6 0.6" fill="none"/>
<!-- ===== Information ===== -->
<g fill="#fff" stroke="#111" stroke-width="1.4">
<rect x="10.4" y="348" width="10" height="10.4"/>
<rect x="8.2" y="358.6" width="14" height="2.6" fill="#aaa" stroke-width="1.1"/>
<rect x="58" y="350" width="13.6" height="9"/>
<rect x="83.2" y="375.6" width="14" height="8.8"/>
</g>
<rect x="32.2" y="350.8" width="15" height="8" fill="#fff" stroke="#555" stroke-width="0.9"/>
<path d="M60.4 352.4 H69.4 V354.6 H60.4 Z" fill="#ddd" stroke="#111" stroke-width="0.7"/>
<path d="M63 353.4 H67" stroke="#111" stroke-width="0.9" fill="none"/>
<path d="M58 356.6 H71.6" stroke="#111" stroke-width="1" fill="none"/>
<circle cx="90" cy="354.4" r="7" fill="#fff" stroke="#222" stroke-width="0.7"/>
<circle cx="90" cy="354.4" r="5.4" fill="#000"/>
<rect x="108" y="351.4" width="14.8" height="6" fill="#222"/>
<g fill="none" stroke="#ddd" stroke-width="0.7"><circle cx="110.8" cy="354.4" r="1.4"/><path d="M113 353 L115.6 355.8 M115.6 353 L113 355.8"/><circle cx="118" cy="354.4" r="1.4"/><path d="M119.8 353 L122 355.8 M122 353 L119.8 355.8"/></g>
<!-- glasses -->
<g fill="#fff" stroke="#555" stroke-width="0.9"><path d="M8.6 377.8 H14 L13.4 381 Q11.4 382.6 9.4 381 Z"/><path d="M16.4 377.8 H21.8 L21 381 Q19 382.6 17 381 Z"/><path d="M14 378.2 H16.4 M7.8 377.4 L8.6 377.8 M22.6 377.4 L21.8 377.8" fill="none"/></g>
<!-- stack -->
<rect x="34.4" y="373" width="11.4" height="8" fill="#111"/>
<path d="M34.4 375 H45.8 M34.4 377 H45.8 M34.4 379 H45.8" stroke="#555" stroke-width="0.5" fill="none"/>
<rect x="33.6" y="381.6" width="13" height="4.6" fill="#fff" stroke="#111" stroke-width="1.4"/>
<!-- person bubble -->
<ellipse cx="67.4" cy="375.2" rx="4.2" ry="3" fill="#fff" stroke="#222" stroke-width="1"/>
<circle cx="61.6" cy="378.8" r="2.3" fill="#fff" stroke="#111" stroke-width="1.3"/>
<path d="M57.8 386 Q57.8 381.6 61.6 381.6 Q65.4 381.6 65.4 386 Z" fill="#fff" stroke="#111" stroke-width="1.3"/>
<!-- card -->
<path d="M83.2 378.6 H97.2" stroke="#111" stroke-width="1.2" fill="none"/>
<path d="M92.4 384 V380.8 H95.2 V384" fill="none" stroke="#111" stroke-width="0.9"/>
<!-- handset -->
<path d="M111.4 373.4 Q109.4 375 110.4 378 Q112 383 116.8 386.4 Q118.8 387.4 120.6 385.4 L118 382.6 L116.6 383.4 Q114.4 381.6 113.4 378.4 L114.6 377.4 L113 373.4 Z" fill="#111"/>
<!-- rotary phone -->
<path d="M8 404.6 Q8 401.4 10.4 400.8 Q15.2 399.6 19.8 400.8 Q22.2 401.4 22.2 404.6 L18.8 404.8 L18.4 403 H11.8 L11.4 404.8 Z" fill="#111"/>
<path d="M9 409.8 Q9.4 405.6 12.4 404 H17.8 Q20.8 405.6 21.2 409.8 Z" fill="#111"/>
<circle cx="15.1" cy="406.4" r="1.5" fill="#fff"/>
<!-- ===== VSM ===== -->
<path d="M8.4 464 Q10.4 465.2 12 464 Q13.6 462.8 15.2 464 Q16.8 465.2 18.4 464 Q20.2 462.8 22.2 464 Q21 465.6 22 467.2 Q21 468.8 22.2 470.4 Q20.2 471.4 18.4 470.4 Q16.8 469.2 15.2 470.4 Q13.6 471.6 12 470.4 Q10.4 469.4 8.4 470.4 Q9.6 468.8 8.6 467.2 Q9.6 465.6 8.4 464 Z" fill="#fff" stroke="#111" stroke-width="1.5" stroke-linejoin="round"/>
<path d="M33.4 467.4 A6.8 6.8 0 0 1 46.8 467.4" fill="none" stroke="#111" stroke-width="1.4"/>
<circle cx="40" cy="468.2" r="4.6" fill="#fff" stroke="#111" stroke-width="1.5"/>
<path d="M58.4 467.8 Q60.2 464.4 62.6 466.6 Q64.8 468.8 66.6 466.8 Q68.4 464.8 69.8 467.2 L71.8 466.6" fill="none" stroke="#444" stroke-width="1.3"/>
<rect x="82.8" y="465.4" width="14.8" height="4.2" rx="0.8" fill="#555" stroke="#111" stroke-width="1"/>
<circle cx="117.6" cy="464.6" r="4.6" fill="#fff" stroke="#111" stroke-width="1.5"/>
<path d="M117.6 461.6 L120.6 466.6 H114.6 Z" fill="#888" stroke="#111" stroke-width="1.2"/>
<line x1="114" y1="468" x2="109" y2="472.6" stroke="#111" stroke-width="2.6" stroke-linecap="round"/>
<!-- ===== Kanban ===== -->
<g stroke="#111" stroke-width="1.4" stroke-linejoin="miter">
<path d="M8.4 524.6 H18.2 L22 528.2 V534.6 H8.4 Z" fill="#fff"/>
<path d="M36 523.8 H43 Q46.2 525.4 46.2 528.4 V532 H36 Z" fill="#fff" stroke-width="1.1"/>
<path d="M34.8 525.2 H41.8 Q45 526.8 45 529.8 V533.4 H34.8 Z" fill="#fff" stroke-width="1.1"/>
<path d="M33.6 526.8 H40.4 Q43.6 528.4 43.6 531.2 V534.8 H33.6 Z" fill="#fff"/>
<path d="M58 524.6 H67.8 L71.6 528.2 V534.6 H58 Z" fill="#444"/>
<path d="M85.6 523.8 H92.6 Q97 525.4 97 528.6 V532 L94 535 H83.4 V526.6 Z" fill="#1c1c1c" stroke-width="1"/>
<path d="M109 524.2 H122 L115.5 535.4 Z" fill="#fff" stroke-width="1.5"/>
</g>
<circle cx="115.5" cy="527.4" r="1.2" fill="#444"/>
<path d="M16 527 V529.4 M16 527 H17.2 V528.2 H16" stroke="#666" stroke-width="0.5" fill="none"/>

  </svg>
</div>
</body>
</html>
